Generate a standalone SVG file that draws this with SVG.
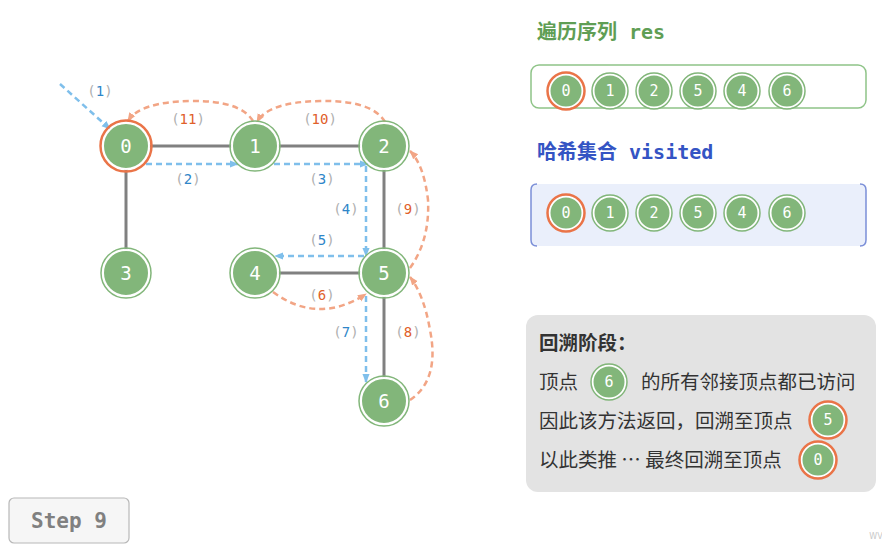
<svg xmlns="http://www.w3.org/2000/svg" width="882" height="549" viewBox="0 0 882 549">
<defs>
<marker id="ab" viewBox="0 0 10 10" refX="9" refY="5" markerWidth="9" markerHeight="9" orient="auto" markerUnits="userSpaceOnUse"><path d="M0,1 L10,5 L0,9 z" fill="#7fbfeb"/></marker>
<marker id="ao" viewBox="0 0 10 10" refX="9" refY="5" markerWidth="9" markerHeight="9" orient="auto" markerUnits="userSpaceOnUse"><path d="M0,1 L10,5 L0,9 z" fill="#f2a585"/></marker>
</defs>
<style>
.edge{stroke:#808080;stroke-width:3;fill:none}
.db{stroke:#7fbfeb;stroke-width:2.5;fill:none;stroke-dasharray:6 4}
.do{stroke:#f2a585;stroke-width:2.5;fill:none;stroke-dasharray:6 4}
.nf{fill:#82b67a;stroke:#fff;stroke-width:2}
.ng{fill:none;stroke:#82b67a;stroke-width:1.5}
.no{fill:none;stroke:#ea7448;stroke-width:2.5}
.nt{font-family:"DejaVu Sans Mono",monospace;font-size:19px;fill:#fff;text-anchor:middle;dominant-baseline:central}
.st{font-family:"DejaVu Sans Mono",monospace;font-size:15px;fill:#fff;text-anchor:middle;dominant-baseline:central}
.lb{font-family:"DejaVu Sans Mono",monospace;font-size:14px;fill:#b0b0b0;text-anchor:middle}
.lbb{fill:#2f86c8}
.lbo{fill:#e0602a}
.cn{font-family:"Noto Sans CJK SC","Noto Sans",sans-serif;font-size:19.5px;fill:#333}
</style>
<rect width="882" height="549" fill="#fff"/>
<g id="connectors">
<line class="edge" x1="126" y1="146" x2="255" y2="146"/>
<line class="edge" x1="255" y1="146" x2="384" y2="146"/>
<line class="edge" x1="126" y1="146" x2="126" y2="273"/>
<line class="edge" x1="384" y1="146" x2="384" y2="273"/>
<line class="edge" x1="255" y1="273" x2="384" y2="273"/>
<line class="edge" x1="384" y1="273" x2="384" y2="401"/>
<path class="db" marker-end="url(#ab)" d="M60,84 L110,129"/>
<path class="db" marker-end="url(#ab)" d="M146,164 L238,164"/>
<path class="db" marker-end="url(#ab)" d="M274,164 L368,164"/>
<path class="db" marker-end="url(#ab)" d="M366,166 L366,256"/>
<path class="db" marker-end="url(#ab)" d="M364,256 L275,256"/>
<path class="db" marker-end="url(#ab)" d="M366,296 L366,382"/>
<path class="do" marker-end="url(#ao)" d="M273,292 Q318,325 366,294"/>
<path class="do" marker-end="url(#ao)" d="M410,400 Q440,380 430,330 Q424,295 410,277"/>
<path class="do" marker-end="url(#ao)" d="M410,268 Q430,240 428,200 Q424,165 410,151"/>
<path class="do" marker-end="url(#ao)" d="M385,122 Q372,100 320,101 Q268,102 257,122"/>
<path class="do" marker-end="url(#ao)" d="M253,121 Q240,100 190,101 Q140,102 128,121"/>
</g>
<g id="labels">
<text class="lb" x="100" y="96">(<tspan class="lbb">1</tspan>)</text>
<text class="lb" x="188" y="124">(<tspan class="lbo">11</tspan>)</text>
<text class="lb" x="320" y="124">(<tspan class="lbo">10</tspan>)</text>
<text class="lb" x="188" y="184">(<tspan class="lbb">2</tspan>)</text>
<text class="lb" x="322" y="184">(<tspan class="lbb">3</tspan>)</text>
<text class="lb" x="346" y="214">(<tspan class="lbb">4</tspan>)</text>
<text class="lb" x="408" y="214">(<tspan class="lbo">9</tspan>)</text>
<text class="lb" x="322" y="245">(<tspan class="lbb">5</tspan>)</text>
<text class="lb" x="322" y="300">(<tspan class="lbo">6</tspan>)</text>
<text class="lb" x="346" y="337">(<tspan class="lbb">7</tspan>)</text>
<text class="lb" x="408" y="337">(<tspan class="lbo">8</tspan>)</text>
</g>
<g id="node0"><circle class="nf" cx="126" cy="146" r="23"/><circle class="no" cx="126" cy="146" r="25.5"/><text class="nt" x="126" y="146">0</text></g>
<g id="node1"><circle class="nf" cx="255" cy="146" r="23"/><circle class="ng" cx="255" cy="146" r="25"/><text class="nt" x="255" y="146">1</text></g>
<g id="node2"><circle class="nf" cx="384" cy="146" r="23"/><circle class="ng" cx="384" cy="146" r="25"/><text class="nt" x="384" y="146">2</text></g>
<g id="node3"><circle class="nf" cx="126" cy="273" r="23"/><circle class="ng" cx="126" cy="273" r="25"/><text class="nt" x="126" y="273">3</text></g>
<g id="node4"><circle class="nf" cx="255" cy="273" r="23"/><circle class="ng" cx="255" cy="273" r="25"/><text class="nt" x="255" y="273">4</text></g>
<g id="node5"><circle class="nf" cx="384" cy="273" r="23"/><circle class="ng" cx="384" cy="273" r="25"/><text class="nt" x="384" y="273">5</text></g>
<g id="node6"><circle class="nf" cx="384" cy="401" r="23"/><circle class="ng" cx="384" cy="401" r="25"/><text class="nt" x="384" y="401">6</text></g>
<g id="res">
<text x="537" y="39" font-family="'DejaVu Sans Mono','Noto Sans CJK SC',monospace" font-size="20" font-weight="bold" fill="#5f9e55">遍历序列 res</text>
<rect x="531" y="65" width="335" height="43" rx="8" fill="#fff" stroke="#8fc488" stroke-width="1.5"/>
<circle class="nf" cx="566" cy="91" r="16.5"/><circle class="no" cx="566" cy="91" r="18.5"/><text class="st" x="566" y="91">0</text>
<circle class="nf" cx="610" cy="91" r="16.5"/><circle class="ng" cx="610" cy="91" r="18"/><text class="st" x="610" y="91">1</text>
<circle class="nf" cx="654" cy="91" r="16.5"/><circle class="ng" cx="654" cy="91" r="18"/><text class="st" x="654" y="91">2</text>
<circle class="nf" cx="698" cy="91" r="16.5"/><circle class="ng" cx="698" cy="91" r="18"/><text class="st" x="698" y="91">5</text>
<circle class="nf" cx="742" cy="91" r="16.5"/><circle class="ng" cx="742" cy="91" r="18"/><text class="st" x="742" y="91">4</text>
<circle class="nf" cx="787" cy="91" r="16.5"/><circle class="ng" cx="787" cy="91" r="18"/><text class="st" x="787" y="91">6</text>
</g>
<g id="visited">
<text x="537" y="159" font-family="'DejaVu Sans Mono','Noto Sans CJK SC',monospace" font-size="20" font-weight="bold" fill="#3454c4">哈希集合 visited</text>
<rect x="531" y="184" width="335" height="62" rx="6" fill="#eaeffb"/>
<path d="M537,184 Q531,184 531,190 L531,240 Q531,246 537,246" fill="none" stroke="#7b8fd8" stroke-width="1.5"/>
<path d="M860,184 Q866,184 866,190 L866,240 Q866,246 860,246" fill="none" stroke="#7b8fd8" stroke-width="1.5"/>
<circle class="nf" cx="566" cy="213" r="16.5"/><circle class="no" cx="566" cy="213" r="18.5"/><text class="st" x="566" y="213">0</text>
<circle class="nf" cx="610" cy="213" r="16.5"/><circle class="ng" cx="610" cy="213" r="18"/><text class="st" x="610" y="213">1</text>
<circle class="nf" cx="654" cy="213" r="16.5"/><circle class="ng" cx="654" cy="213" r="18"/><text class="st" x="654" y="213">2</text>
<circle class="nf" cx="698" cy="213" r="16.5"/><circle class="ng" cx="698" cy="213" r="18"/><text class="st" x="698" y="213">5</text>
<circle class="nf" cx="742" cy="213" r="16.5"/><circle class="ng" cx="742" cy="213" r="18"/><text class="st" x="742" y="213">4</text>
<circle class="nf" cx="787" cy="213" r="16.5"/><circle class="ng" cx="787" cy="213" r="18"/><text class="st" x="787" y="213">6</text>
</g>
<g id="note">
<rect x="526" y="315" width="350" height="177" rx="12" fill="#e3e3e3"/>
<text class="cn" x="539" y="350" font-weight="bold">回溯阶段：</text>
<text class="cn" x="539" y="389">顶点</text>
<circle class="nf" cx="609" cy="382" r="16.5"/><circle class="ng" cx="609" cy="382" r="18"/><text class="st" x="609" y="382">6</text>
<text class="cn" x="641" y="389">的所有邻接顶点都已访问</text>
<text class="cn" x="539" y="428">因此该方法返回，回溯至顶点</text>
<circle class="nf" cx="828" cy="420" r="16.5"/><circle class="no" cx="828" cy="420" r="18.5"/><text class="st" x="828" y="420">5</text>
<text class="cn" x="539" y="467">以此类推 … 最终回溯至顶点</text>
<circle class="nf" cx="818" cy="460" r="16.5"/><circle class="no" cx="818" cy="460" r="18.5"/><text class="st" x="818" y="460">0</text>
</g>
<g id="step">
<rect x="9" y="498" width="120" height="45" rx="5" fill="#f6f6f6" stroke="#b8b8b8" stroke-width="1.2"/>
<text x="69" y="528" font-family="'DejaVu Sans Mono',monospace" font-size="21" font-weight="bold" fill="#808080" text-anchor="middle">Step 9</text>
</g>
<text x="876" y="539" font-family="'DejaVu Sans',sans-serif" font-size="8" fill="#c8c8c8" text-anchor="middle">WV</text>
</svg>
